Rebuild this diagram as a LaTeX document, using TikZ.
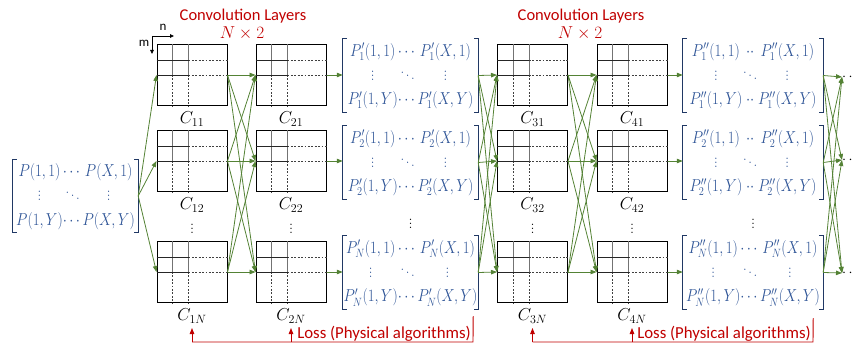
\documentclass[tikz,border=0pt]{standalone}
\usepackage{fontspec}
\usepackage{amsmath}
\usepackage{graphicx}
\newfontfamily\carl{Carlito}
\usetikzlibrary{arrows.meta,calc}
\definecolor{arrgreen}{HTML}{548235}
\definecolor{matblue}{HTML}{2F5597}
\definecolor{brblue}{HTML}{203864}
\definecolor{lossred}{HTML}{C00000}
\renewcommand{\arraystretch}{1.28}
\newcommand\mymat[2]{\scalebox{0.855}[1]{$\begin{array}{@{}c@{}c@{}c@{}}#1(1,1)&#2&#1(X,1)\\ \vdots&\ddots&\vdots\\ #1(1,Y)&#2&#1(X,Y)\end{array}$}}
\newcommand\twodots{\mkern1mu{\cdot}{\cdot}\mkern1mu}
\begin{document}
\begin{tikzpicture}[x=1pt,y=-1pt,
  convbox/.style={draw, line width=1pt, minimum width=70pt, minimum height=61pt, inner sep=0pt},
  matnode/.style={text=matblue, minimum height=61pt, inner sep=0pt, font=\fontsize{17}{19}\selectfont},
  clabel/.style={inner sep=0pt, font=\fontsize{18.5}{20}\selectfont},
  vdotnode/.style={inner sep=0pt, font=\fontsize{16}{18}\selectfont},
  flow/.style={draw=arrgreen, line width=0.8pt, -{Triangle[length=6pt,width=4.5pt]}},
  brk/.style={draw=brblue, line width=1.3pt},
  gridsol/.style={draw=black!55, line width=0.6pt},
  gridhsol/.style={draw=black!85, line width=0.6pt},
  griddash/.style={draw=black!75, line width=0.6pt, dash pattern=on 1.8pt off 1.6pt},
  losspath/.style={draw=lossred, line width=0.9pt},
  lossarrow/.style={draw=lossred, line width=0.9pt, -{Triangle[length=6pt,width=4.5pt]}},
  losstext/.style={text=lossred, inner sep=0pt, font=\carl\fontsize{16.8}{18}\selectfont},
  title/.style={text=lossred, inner sep=0pt, font=\carl\fontsize{16.5}{18}\selectfont},
  titlemath/.style={text=lossred, inner sep=0pt, font=\fontsize{18}{20}\selectfont},
  axislabel/.style={inner sep=0pt, font=\carl\fontsize{13}{14}\selectfont},
  axarrow/.style={draw=black, line width=0.8pt, -{Triangle[length=4pt,width=3.5pt]}},
  taildots/.style={inner sep=0pt, anchor=west, font=\fontsize{14}{16}\selectfont}
]
\useasboundingbox (0,0) rectangle (856,345);

% titles
\node[title] (t1) at (243,16) {Convolution Layers};
\node[titlemath] (t1b) at (242,33) {$N\times 2$};
\node[title] (t2) at (581,16) {Convolution Layers};
\node[titlemath] (t2b) at (580,33) {$N\times 2$};

% axis
\coordinate (ax) at (152,36);
\coordinate (axn) at (174,36);
\coordinate (axm) at (152,54);
\draw[axarrow] (ax) -- (axn);
\draw[axarrow] (ax) -- (axm);
\node[axislabel] (nlab) at (163,27) {n};
\node[axislabel] (mlab) at (144,43) {m};

% conv boxes
\foreach \col/\x in {1/192,2/291,3/532.5,4/632}{
  \foreach \row/\y in {1/75,2/161,N/272}{
    \node[convbox] (c\col\row) at (\x,\y) {};
    \node[clabel] (lc\col\row) at ($(c\col\row.south)+(0,13)$) {$C_{\col\row}$};
  }
  \node[vdotnode] (vd\col) at (\x,226) {$\vdots$};
}

% grid inside boxes
\foreach \b in {c11,c12,c1N,c21,c22,c2N,c31,c32,c3N,c41,c42,c4N}{
  \foreach \dx in {16,32}{
    \draw[gridsol] ([xshift=\dx pt]\b.north west) -- ([xshift=\dx pt,yshift=-31pt]\b.north west);
    \draw[griddash] ([xshift=\dx pt,yshift=-31pt]\b.north west) -- ([xshift=\dx pt]\b.south west);
  }
  \foreach \dy in {16,31}{
    \draw[gridhsol] ([yshift=-\dy pt]\b.north west) -- ([xshift=32pt,yshift=-\dy pt]\b.north west);
    \draw[griddash] ([xshift=32pt,yshift=-\dy pt]\b.north west) -- ([yshift=-\dy pt]\b.north east);
  }
}

% matrices
\node[matnode, minimum width=125pt] (p0) at (75.5,196) {\mymat{P}{\cdots}};
\node[matnode, minimum width=135pt] (pa1) at (410.5,75.5) {\mymat{P'_1}{\cdots}};
\node[matnode, minimum width=135pt] (pa2) at (410.5,162.5) {\mymat{P'_2}{\cdots}};
\node[matnode, minimum width=135pt] (paN) at (410.5,272.5) {\mymat{P'_N}{\cdots}};
\node[matnode, minimum width=140pt] (pb1) at (753,75.5) {\mymat{P''_1}{\twodots}};
\node[matnode, minimum width=140pt] (pb2) at (753,162.5) {\mymat{P''_2}{\twodots}};
\node[matnode, minimum width=140pt] (pbN) at (753,272.5) {\mymat{P''_N}{\cdots}};
\node[vdotnode] (vda) at (410.5,221) {$\vdots$};
\node[vdotnode] (vdb) at (753,221) {$\vdots$};

% brackets
\foreach \m in {p0,pa1,pa2,paN,pb1,pb2,pbN}{
  \draw[brk] ([xshift=4pt]\m.north west) -- (\m.north west) -- (\m.south west) -- ([xshift=4pt]\m.south west);
  \draw[brk] ([xshift=-4pt]\m.north east) -- (\m.north east) -- (\m.south east) -- ([xshift=-4pt]\m.south east);
}

% trailing dots
\node[taildots] (d1) at (842,77) {$\cdots$};
\node[taildots] (d2) at (842,160) {$\cdots$};
\node[taildots] (dN) at (842,273) {$\cdots$};

% connectors
\foreach \r in {1,2,N}{
  \draw[flow] (p0.east) -- (c1\r.west);
  \foreach \s in {1,2,N}{
    \draw[flow] (c1\r.east) -- (c2\s.west);
    \draw[flow] (pa\r.east) -- (c3\s.west);
    \draw[flow] (c3\r.east) -- (c4\s.west);
    \draw[flow] (pb\r.east) -- (d\s.west);
  }
  \draw[flow] (c2\r.east) -- (c2\r.east -| pa\r.west);
  \draw[flow] (c4\r.east) -- (c4\r.east -| pb\r.west);
}

% loss feedback
\coordinate (la) at (473,342);
\draw[losspath] ([xshift=-5pt,yshift=-7pt]paN.south east) -- (la) -- (la -| c1N.south);
\draw[lossarrow] (la -| c1N.south) -- ++(0,-14);
\draw[lossarrow] (la -| c2N.south) -- ++(0,-14);
\node[losstext, anchor=base east] (ltxt1) at (471,338) {Loss (Physical algorithms)};

\coordinate (lb) at (813,342);
\draw[losspath] ([xshift=-10pt,yshift=-9pt]pbN.south east) -- (lb) -- (lb -| c3N.south);
\draw[lossarrow] (lb -| c3N.south) -- ++(0,-14);
\draw[lossarrow] (lb -| c4N.south) -- ++(0,-14);
\node[losstext, anchor=base east] (ltxt2) at (811,338) {Loss (Physical algorithms)};
\end{tikzpicture}
\end{document}
